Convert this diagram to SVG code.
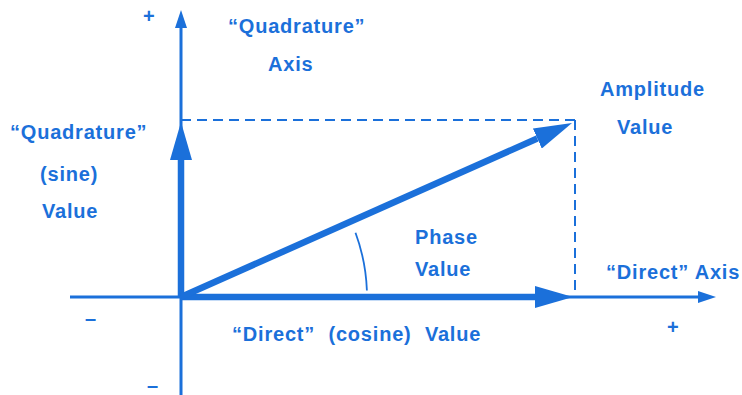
<svg xmlns="http://www.w3.org/2000/svg" width="742" height="395" viewBox="0 0 742 395">
<style>
text{font-family:"Liberation Sans",Arial,sans-serif;font-weight:bold;font-size:20px;fill:#1b70da;letter-spacing:0.8px}
.ax{stroke:#1b70da;stroke-width:3;fill:none}
.vec{stroke:#1b70da;stroke-width:6.5;fill:none}
.dash{stroke:#1b70da;stroke-width:2;fill:none;stroke-dasharray:10 6}
</style>
<defs>
<marker id="big" markerUnits="userSpaceOnUse" viewBox="0 0 38 22" refX="0" refY="11" markerWidth="38" markerHeight="22" orient="auto"><path d="M0,0 L38,11 L0,22 Z" fill="#1b70da"/></marker>
<marker id="small" markerUnits="userSpaceOnUse" viewBox="0 0 18 12" refX="0" refY="6" markerWidth="18" markerHeight="12" orient="auto"><path d="M0,0 L18,6 L0,12 Z" fill="#1b70da"/></marker>
</defs>
<rect width="742" height="395" fill="#ffffff"/>
<g id="connectors">
<line class="ax" x1="181" y1="395" x2="181" y2="28" marker-end="url(#small)"/>
<line class="ax" x1="70" y1="297" x2="698" y2="297" marker-end="url(#small)"/>
<line class="dash" x1="181" y1="120" x2="575" y2="120"/>
<line class="dash" x1="575" y1="120" x2="575" y2="297"/>
<line class="vec" x1="181" y1="297" x2="181" y2="160" marker-end="url(#big)"/>
<line class="vec" x1="181" y1="297" x2="535" y2="297" marker-end="url(#big)"/>
<line class="vec" x1="181" y1="297" x2="537.3" y2="138.5" marker-end="url(#big)"/>
<path d="M355.5,232.8 A186,186 0 0 1 366.9,290.5" stroke="#1b70da" stroke-width="1.8" fill="none"/>
</g>
<g id="q-axis-label"><text x="228" y="33">“Quadrature”</text><text x="268" y="71">Axis</text></g>
<g id="plus-top"><text x="143" y="23">+</text></g>
<g id="amplitude-label"><text x="600" y="96">Amplitude</text><text x="617" y="134">Value</text></g>
<g id="q-value-label"><text x="10" y="139">“Quadrature”</text><text x="40" y="181">(sine)</text><text x="42" y="218">Value</text></g>
<g id="phase-label"><text x="415" y="244">Phase</text><text x="415" y="276">Value</text></g>
<g id="d-axis-label"><text x="606" y="279">“Direct” Axis</text></g>
<g id="minus-left"><text x="85" y="325">–</text></g>
<g id="d-value-label"><text x="232" y="341" word-spacing="7">“Direct” (cosine) Value</text></g>
<g id="plus-right"><text x="667" y="334">+</text></g>
<g id="minus-bottom"><text x="147" y="392">–</text></g>
</svg>
